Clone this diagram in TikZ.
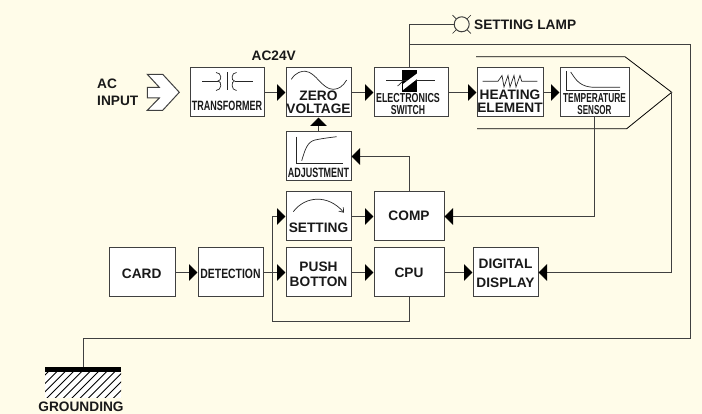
\documentclass[tikz,border=0pt]{standalone}
\usepackage{fontspec}
\setmainfont{Liberation Sans}
\usetikzlibrary{arrows.meta,patterns,positioning}
\definecolor{bgc}{HTML}{FFFCE9}
\definecolor{edge}{HTML}{404040}
\newcommand{\lbl}[3]{\scalebox{#1}[1]{\fontsize{#2}{#2}\selectfont\bfseries #3}}
\tikzset{
  x=1pt,y=-1pt,
  blockbox/.style={draw=edge,line width=1pt,fill=white,minimum width=0pt,inner sep=0pt},
  wire/.style={draw=edge,line width=1pt},
  flow/.style={wire,-{Triangle[length=8.5pt,width=16.5pt,fill=black,color=black]}},
  txt/.style={inner sep=0pt,text=black!90,font=\fontsize{13.7}{13.7}\selectfont\bfseries},
  icon/.style={line width=.7pt,draw=black!85},
}
\begin{document}
\begin{tikzpicture}
\useasboundingbox[fill=bgc] (0,0) rectangle (702,414);
% blocks
\node[blockbox,minimum width=74pt,minimum height=49pt] (trans) at (227,92.5) {};
\node[blockbox,minimum width=65pt,minimum height=49pt] (zero) at (318.5,92.5) {};
\node[blockbox,minimum width=65pt,minimum height=49pt] (adj) at (318.5,156.5) {};
\node[blockbox,minimum width=74pt,minimum height=49pt] (elec) at (411,92.5) {};
\node[blockbox,minimum width=66pt,minimum height=49pt] (heat) at (510,92.5) {};
\node[blockbox,minimum width=69pt,minimum height=49pt] (temp) at (594.5,92.5) {};
\node[blockbox,minimum width=65pt,minimum height=49pt] (set) at (318.5,216.5) {};
\node[blockbox,minimum width=70pt,minimum height=49pt] (comp) at (409,216.5) {};
\node[blockbox,minimum width=65pt,minimum height=49pt] (push) at (318.5,272.5) {};
\node[blockbox,minimum width=70pt,minimum height=49pt] (cpu) at (409,272.5) {};
\node[blockbox,minimum width=65pt,minimum height=49pt] (disp) at (505.5,272.5) {};
\node[blockbox,minimum width=66pt,minimum height=49pt] (card) at (142,272.5) {};
\node[blockbox,minimum width=65pt,minimum height=49pt] (det) at (230.5,272.5) {};
% AC input shape
\node[inner sep=0pt,minimum size=0pt] (acin) at (179.3,92.3) {};
\draw[line width=1pt,draw=edge,fill=white] (147.3,74.3) -- (162.7,74.3) -- (acin.center) -- (162.7,110.3) -- (147.3,110.3) -- (159.3,98) -- (147.3,98) -- (147.3,87.3) -- (159.3,87.3) -- cycle;
% enclosure
\coordinate (tip) at (671.7,92.3);
\draw[line width=.8pt,draw=black] (476,56.7) -- (625,56.7) -- (tip) -- (626.7,128.7) -- (477,128.7);
% lamp
\node[circle,draw=edge,line width=1pt,minimum size=15pt,inner sep=0pt] (lamp) at (461.7,24.3) {};
\draw[icon] (lamp.45) -- +(3.5,-3.5) (lamp.135) -- +(-3.5,-3.5) (lamp.225) -- +(-3.5,3.5) (lamp.315) -- +(3.5,3.5);
% ground
\node[inner sep=0pt,minimum width=76pt,minimum height=5pt,fill=black] (bar) at (83,369.5) {};
\fill[white] (45,372) rectangle (121,397.5);
\begin{scope}
\clip (45,372) rectangle (121,397.5);
\foreach \k in {-4,...,10} {\draw[line width=.9pt,black] (45+\k*8.3,400) -- (45+\k*8.3+30,370);}
\end{scope}
% connectors
\draw[flow] (trans.east) -- (zero.west);
\draw[flow] (zero.east) -- (elec.west);
\draw[flow] (elec.east) -- (heat.west);
\draw[flow] (heat.east) -- (temp.west);
\draw[flow] (adj.north) -- (zero.south);
\draw[flow] (comp.north) |- (adj.east);
\draw[wire] (409,68) |- (lamp.west);
\draw[wire] (409,45) -- (690,45) -- (690,338.3) -- (83.6,338.3) -- (83.6,367);
\draw[flow] (tip) |- (disp.east);
\draw[flow] (temp.south) |- (comp.east);
\draw[flow] (card.east) -- (det.west);
\draw[flow] (det.east) -- (push.west);
\draw[flow] (cpu.south) -- (409,321.7) -- (272.7,321.7) |- (set.west);
\draw[flow] (set.east) -- (comp.west);
\draw[flow] (push.east) -- (cpu.west);
\draw[flow] (cpu.east) -- (disp.west);
% icons
\draw[icon] (202.3,81) -- (218,81);
\draw[icon] (216,72.5) .. controls (222,72.5) and (222,81) .. (218,81) .. controls (222,81) and (222,90.5) .. (216,90.5);
\draw[icon] (227,72.5) -- (227,90.5);
\draw[icon] (236.5,72.5) .. controls (231,72.5) and (231,81) .. (234.5,81) .. controls (231,81) and (231,90.5) .. (236.5,90.5);
\draw[icon] (234.5,81) -- (252.6,81);
\draw[icon] (291.3,79.3) .. controls (296,72) and (302,71) .. (305.3,71.3) .. controls (316,72) and (322,89.5) .. (333.3,89.3) .. controls (339,89.3) and (343,86) .. (346.7,80);
\draw[icon] (296,136.7) -- (296,163.3) -- (342.7,163.3);
\draw[icon] (301.7,160.7) .. controls (305,150) and (307,142) .. (315,140) .. controls (322,138.5) and (330,137.5) .. (336.7,136.7);
\draw[icon] (566.7,71.3) -- (566.7,90.7) -- (620,90.7);
\draw[icon] (570.7,72) .. controls (576,80) and (580,87.3) .. (595,87.3) -- (620,87.3);
\draw[icon] (482.7,81.3) -- (498,81.3) -- (502,75.5) -- (504,87) -- (508,75.5) -- (510,87) -- (514,75.5) -- (516,87) -- (520,75.5) -- (521.7,81.3) -- (537.3,81.3);
\draw[icon,-{Straight Barb[length=4pt,width=6pt]}] (293.3,211.7) .. controls (305,196) and (328,194) .. (344,212.7);
\fill[black] (402.3,70) rectangle (417,91.7);
\draw[icon] (386,80.7) -- (435,80.7);
\fill[white] (403,84) -- (417,73.5) -- (417,79) -- (403,90) -- cycle;
\draw[icon] (397.7,86) -- (403,81);
% texts
\node[txt,anchor=west] (t1) at (97,84) {AC};
\node[txt,anchor=west] (t2) at (97,101) {INPUT};
\node[txt] (t3) at (273.7,56) {AC24V};
\node[txt,anchor=west] (t4) at (474,25) {SETTING LAMP};
\node[txt] (t5) at (227,105.5) {\lbl{.667}{13.5}{TRANSFORMER}};
\node[txt] (t6) at (318.5,95.5) {ZERO};
\node[txt] (t7) at (318.5,108.5) {VOLTAGE};
\node[txt] (t8) at (318.5,173) {\lbl{.665}{13.5}{ADJUSTMENT}};
\node[txt] (t9) at (408,98.3) {\lbl{.685}{13}{ELECTRONICS}};
\node[txt] (t10) at (408,110) {\lbl{.665}{13}{SWITCH}};
\node[txt] (t11) at (510,95) {HEATING};
\node[txt] (t12) at (510,107.7) {ELEMENT};
\node[txt] (t13) at (594.5,98.3) {\lbl{.64}{13}{TEMPERATURE}};
\node[txt] (t14) at (594.5,110) {\lbl{.62}{13}{SENSOR}};
\node[txt] (t15) at (318.5,228) {SETTING};
\node[txt] (t16) at (409,216) {COMP};
\node[txt] (t17) at (318.5,266.3) {PUSH};
\node[txt] (t18) at (318.5,282) {BOTTON};
\node[txt] (t19) at (409,273) {CPU};
\node[txt] (t20) at (505.5,264) {DIGITAL};
\node[txt] (t21) at (505.5,283) {DISPLAY};
\node[txt] (t22) at (141.7,274) {CARD};
\node[txt] (t23) at (230.5,274) {\lbl{.77}{13.5}{DETECTION}};
\node[txt] (t24) at (81,406.5) {GROUNDING};
\end{tikzpicture}
\end{document}
